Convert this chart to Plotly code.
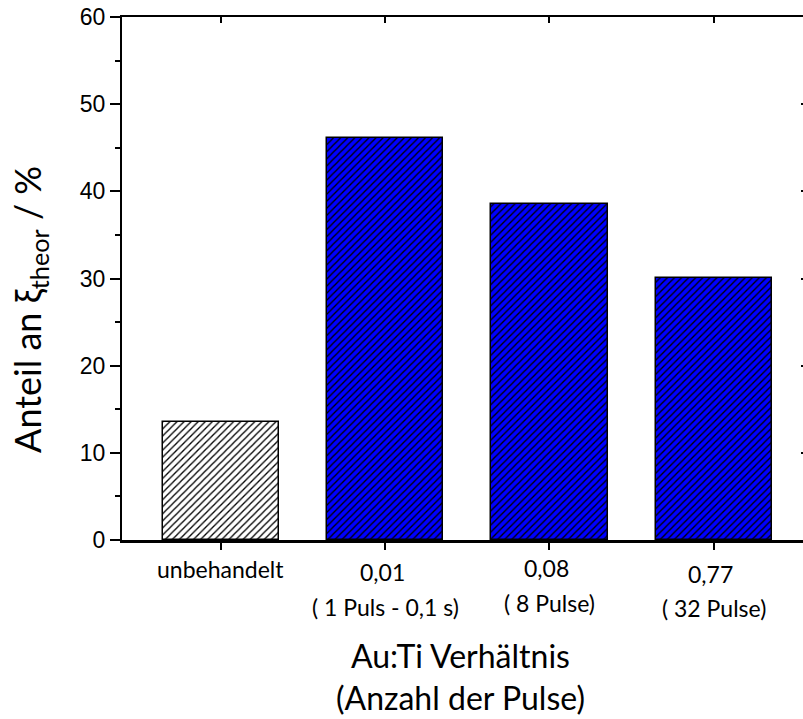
import plotly.graph_objects as go

# Data
categories = ["unbehandelt", "0,01", "0,08", "0,77"]
pulse_labels = ["", "( 1 Puls - 0,1 s)", "( 8 Pulse)", "( 32 Pulse)"]
anteil = [13.5, 46.1, 38.5, 30.1]
fill_colors = ["#FFFFFF", "#0000FF", "#0000FF", "#0000FF"]
y_ticks = [0, 10, 20, 30, 40, 50, 60]

label_font = "Lato"
tick_font = "Liberation Sans"

x_range = [-0.6, 3.542]
y_range = [0, 60]

fig = go.Figure()

# one hatched bar trace per fill colour
for colour in dict.fromkeys(fill_colors):
    ys = [v if c == colour else None for v, c in zip(anteil, fill_colors)]
    fig.add_trace(go.Bar(
        x=categories,
        y=ys,
        width=0.706,
        marker=dict(
            color=colour,
            line=dict(color="black", width=1.5),
            pattern=dict(shape="/", fgcolor="black", bgcolor=colour,
                         fgopacity=1, size=5, solidity=0.26,
                         fillmode="replace"),
        ),
        showlegend=False,
        hoverinfo="x+y",
    ))

# helper trace so the top / right mirror axes get drawn
fig.add_trace(go.Scatter(
    x=categories, y=anteil, xaxis="x2", yaxis="y2",
    mode="markers", marker=dict(size=1, opacity=0),
    showlegend=False, hoverinfo="skip",
))

annotations = []
# category labels (value line + pulse line)
num_shift = [-29, -32, -28, -33.5]
pulse_shift = [0, -67, -63, -68]
for cat, pl, ns, ps in zip(categories, pulse_labels, num_shift, pulse_shift):
    annotations.append(dict(
        x=cat, xref="x", y=0, yref="paper", yanchor="middle",
        yshift=ns, xshift=0 if cat == "unbehandelt" else -3,
        text=cat, showarrow=False,
        font=dict(family=label_font, size=23, color="black"),
    ))
    if pl:
        annotations.append(dict(
            x=cat, xref="x", y=0, yref="paper", yanchor="middle",
            yshift=ps, text=pl, showarrow=False,
            font=dict(family=label_font, size=23, color="black"),
        ))

# axis titles
annotations.append(dict(
    x=0.497, xref="paper", y=0, yref="paper", yanchor="middle",
    yshift=-115, text="Au:Ti Verhältnis", showarrow=False,
    font=dict(family=label_font, size=32, color="black"),
))
annotations.append(dict(
    x=0.497, xref="paper", y=0, yref="paper", yanchor="middle",
    yshift=-157, text="(Anzahl der Pulse)", showarrow=False,
    font=dict(family=label_font, size=32, color="black"),
))
annotations.append(dict(
    x=0, xref="paper", xshift=-92, xanchor="center",
    y=0.44, yref="paper", yanchor="middle",
    text="Anteil an ξ<sub>theor</sub> / %", textangle=-90, showarrow=False,
    font=dict(family=label_font, size=36, color="black"),
))

fig.update_layout(
    width=803,
    height=719,
    margin=dict(l=122, r=0, t=17, b=179, pad=0),
    paper_bgcolor="white",
    plot_bgcolor="white",
    bargap=0,
    barmode="overlay",
    annotations=annotations,
    xaxis=dict(
        type="category",
        range=x_range,
        showline=True, linecolor="black", linewidth=2.5,
        ticks="outside", ticklen=7, tickwidth=2, tickcolor="black",
        showticklabels=False,
        showgrid=False, zeroline=False,
    ),
    xaxis2=dict(
        type="category",
        overlaying="x", side="top", anchor="y2",
        range=x_range,
        showline=True, linecolor="black", linewidth=2,
        ticks="inside", ticklen=6, tickwidth=2, tickcolor="black",
        showticklabels=False,
        showgrid=False, zeroline=False,
    ),
    yaxis=dict(
        range=y_range,
        tickvals=y_ticks,
        showline=True, linecolor="black", linewidth=2,
        ticks="outside", ticklen=10, tickwidth=1.5, tickcolor="black",
        minor=dict(ticks="outside", ticklen=5, tickwidth=1.5,
                   tickcolor="black", dtick=5, showgrid=False),
        tickfont=dict(family=tick_font, size=23, color="black"),
        showgrid=False, zeroline=False,
    ),
    yaxis2=dict(
        overlaying="y", side="right", anchor="x2",
        range=y_range,
        tickvals=y_ticks,
        showline=False,
        ticks="inside", ticklen=2, tickwidth=1.5, tickcolor="black",
        showticklabels=False,
        showgrid=False, zeroline=False,
    ),
)

fig.write_html("out.html")
